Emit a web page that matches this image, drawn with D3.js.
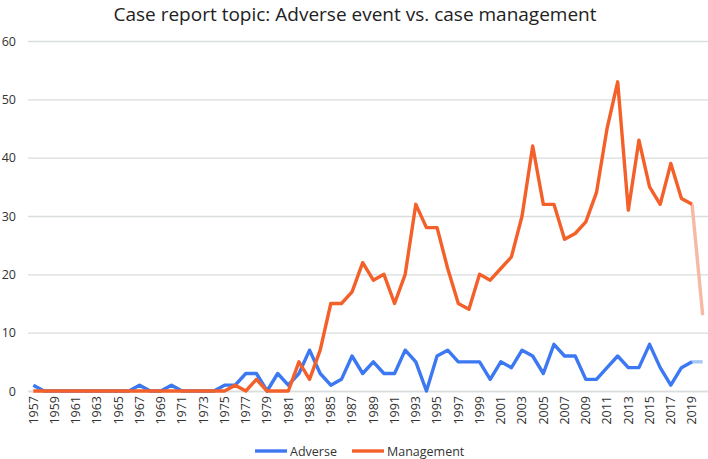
<!DOCTYPE html>
<html><head><meta charset="utf-8">
<script src="https://cdn.jsdelivr.net/npm/d3@7"></script>
<style>body{margin:0;background:#fff}svg{display:block}</style>
</head><body>
<svg id="c" width="708" height="459"></svg>
<script>
const years = d3.range(1957, 2021).map(String);
const adverse = [1,0,0,0,0,0,0,0,0,0,1,0,0,1,0,0,0,0,1,1,3,3,0,3,1,3,7,3,1,2,6,3,5,3,3,7,5,0,6,7,5,5,5,2,5,4,7,6,3,8,6,6,2,2,4,6,4,4,8,4,1,4,5,5];
const management = [0,0,0,0,0,0,0,0,0,0,0,0,0,0,0,0,0,0,0,1,0,2,0,0,0,5,2,7,15,15,17,22,19,20,15,20,32,28,28,21,15,14,20,19,21,23,30,42,32,32,26,27,29,34,45,53,31,43,35,32,39,33,32,13];
const yTicks = [0,10,20,30,40,50,60];
const tickYears = years.filter((d,i)=>i%2===0 && +d<=2019);
const seriesNames = ["Adverse","Management"];
const colors = ["#3b78f2","#f4602a"];
const lightColors = ["#a9c9f5","#f5b9a4"];

const svg = d3.select("#c");
const font = "'Open Sans', 'Noto Sans', sans-serif";
const L = 28, R = 708, T = 41, B = 391;
const x = d3.scaleBand().domain(years).range([L, R]);
const y = d3.scaleLinear().domain([0,60]).range([B, T]);
const cx = d => x(d) + x.bandwidth()/2;

svg.append("text").attr("x", 355).attr("y", 21).attr("text-anchor","middle")
  .attr("font-family", font).attr("font-size", 19).attr("fill","#222")
  .text("Case report topic: Adverse event vs. case management");

// grid
const ga = svg.append("g").attr("transform",`translate(${L},0)`)
  .call(d3.axisLeft(y).tickValues(yTicks).tickSize(-(R-L)).tickPadding(12));
ga.select(".domain").remove();
ga.selectAll(".tick line").attr("stroke","#d9dddd").attr("stroke-width",1.3);
ga.selectAll(".tick text").attr("font-family",font).attr("font-size",12.5).attr("fill","#333");

const xa = svg.append("g").attr("transform",`translate(0,${B})`)
  .call(d3.axisBottom(x).tickValues(tickYears).tickSize(0).tickPadding(4));
xa.select(".domain").attr("stroke","#d9dddd").attr("stroke-width",1.3);
xa.selectAll(".tick text").attr("font-family",font).attr("font-size",12.5).attr("fill","#333")
  .attr("transform","rotate(-90)").attr("text-anchor","end").attr("y",0).attr("x",-5).attr("dy","0.35em");

const line = d3.line().x(d=>cx(d.year)).y(d=>y(d.v));
[adverse, management].forEach((vals, k) => {
  const pts = vals.map((v,i)=>({year:years[i], v}));
  svg.append("path").datum(pts.slice(-2)).attr("d", line).attr("fill","none")
    .attr("stroke", lightColors[k]).attr("stroke-width",3.4).attr("stroke-linejoin","round");
  svg.append("path").datum(pts.slice(0,-1)).attr("d", line).attr("fill","none")
    .attr("stroke", colors[k]).attr("stroke-width",3.4).attr("stroke-linejoin","round");
});

// legend
const lg = svg.append("g").attr("transform","translate(0,451)");
const lx = [255, 352];
seriesNames.forEach((n,k)=>{
  lg.append("line").attr("x1",lx[k]).attr("x2",lx[k]+32).attr("y1",0).attr("y2",0)
    .attr("stroke",colors[k]).attr("stroke-width",3.4);
  lg.append("text").attr("x",lx[k]+35).attr("y",4.5).attr("font-family",font).attr("font-size",12.5)
    .attr("fill","#333").text(n);
});
</script>
</body></html>
